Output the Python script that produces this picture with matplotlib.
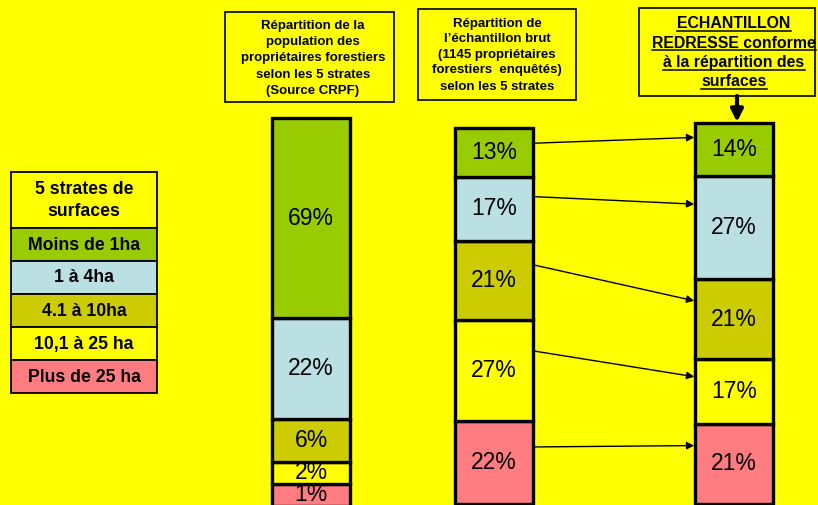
import numpy as np
import matplotlib
matplotlib.use("Agg")
import matplotlib.pyplot as plt
from matplotlib.patches import Rectangle, ConnectionPatch

plt.rcParams['font.family'] = ['Liberation Sans', 'DejaVu Sans']

# --- data ---
strates = ["Moins de 1ha", "1 à 4ha", "4.1 à 10ha", "10,1 à 25 ha", "Plus de 25 ha"]
couleurs = ["#99CC00", "#BBE0E3", "#CCCC00", "#FFFF00", "#FF7C80"]
pop_crpf = [69, 22, 6, 2, 1]          # population des propriétaires (source CRPF)
ech_brut = [13, 17, 21, 27, 22]        # échantillon brut (1145 enquêtés)
ech_redresse = [14, 27, 21, 17, 21]    # échantillon redressé

titre_crpf = ["Répartition de la", "population des", "propriétaires forestiers",
              "selon les 5 strates", "(Source CRPF)"]
titre_brut = ["Répartition de", "l’échantillon brut", "(1145 propriétaires",
              "forestiers  enquêtés)", "selon les 5 strates"]
titre_redresse = ["ECHANTILLON", "REDRESSE conforme", "à la répartition des", "surfaces"]
titre_legende = ["5 strates de", "surfaces"]

BG = "#FFFF00"
W, H = 818, 505

fig = plt.figure(figsize=(W / 100, H / 100), dpi=100, facecolor=BG)
canvas = fig.add_axes([0, 0, 1, 1])
canvas.set_xlim(0, W)
canvas.set_ylim(H, 0)
canvas.axis('off')


def px_axes(x0, y0, x1, y1):
    # axes placed in pixel coordinates (y from the top)
    return fig.add_axes([x0 / W, 1 - y1 / H, (x1 - x0) / W, (y1 - y0) / H])


def stacked_column(ax, values, gamma):
    fwd = lambda y: np.power(np.clip(y, 0, None), gamma)
    inv = lambda t: np.power(np.clip(t, 0, None), 1.0 / gamma)
    ax.set_yscale('function', functions=(fwd, inv))
    ax.set_xlim(0, 1)
    ax.set_ylim(0, 100)
    ax.axis('off')

    # stack from the bottom: last category at the bottom
    vals = np.array(values[::-1], dtype=float)
    cols = couleurs[::-1]
    bottoms = np.concatenate([[0], np.cumsum(vals)[:-1]])
    ax.bar(0.5, vals, bottom=bottoms, width=1, color=cols,
           edgecolor='black', linewidth=2.4, clip_on=False)

    for b, v in zip(bottoms, vals):
        y = inv((fwd(b) + fwd(b + v)) / 2)
        ax.text(0.5, y, f"{v:.0f}%", ha='center', va='center', fontsize=16.5)

    def anchor(i, frac):
        j = len(values) - 1 - i
        top = fwd(bottoms[j] + vals[j])
        bot = fwd(bottoms[j])
        return inv(top - frac * (top - bot))
    return anchor


def header_box(x0, y0, x1, y1, lines, ys, xc, size):
    canvas.add_patch(Rectangle((x0, y0), x1 - x0, y1 - y0, facecolor=BG,
                               edgecolor='black', lw=1.2))
    for line, y in zip(lines, ys):
        canvas.text(xc, y, line, ha='center', va='center',
                    fontsize=size, fontweight='bold')


# --- header boxes ---
header_box(225, 12, 394, 102, titre_crpf, [25.5, 42, 58, 74.5, 91], 313, 9.5)
header_box(418, 9, 576, 100, titre_brut, [24.5, 39.5, 55, 70.5, 86.5], 497, 9.5)

canvas.add_patch(Rectangle((639, 8), 176, 88, facecolor=BG, edgecolor='black', lw=1.2))
under = []
for line, yb in zip(titre_redresse, [28.5, 48, 67.5, 86.5]):
    under.append(canvas.text(734, yb, line, ha='center', va='baseline',
                             fontsize=11.4, fontweight='bold'))

# --- legend ---
lx0, lx1 = 11, 157
canvas.add_patch(Rectangle((lx0, 172), lx1 - lx0, 56, facecolor=BG, edgecolor='black', lw=1.3))
for line, y in zip(titre_legende, [189, 212]):
    canvas.text((lx0 + lx1) / 2, y, line, ha='center', va='center',
                fontsize=12.7, fontweight='bold')
for i, (nom, c) in enumerate(zip(strates, couleurs)):
    y0 = 228 + 33 * i
    canvas.add_patch(Rectangle((lx0, y0), lx1 - lx0, 33, facecolor=c, edgecolor='black', lw=1.3))
    canvas.text((lx0 + lx1) / 2, y0 + 17, nom, ha='center', va='center',
                fontsize=12.7, fontweight='bold')

# --- columns ---
ax1 = px_axes(272, 118, 350, 506)
ax2 = px_axes(455, 128, 533, 504)
ax3 = px_axes(695, 123, 773, 504)
stacked_column(ax1, pop_crpf, 0.62)
a2 = stacked_column(ax2, ech_brut, 1.0)
a3 = stacked_column(ax3, ech_redresse, 1.0)

# arrows from raw sample to adjusted sample
for i in range(len(strates)):
    con = ConnectionPatch(xyA=(1.03, a2(i, 0.31)), coordsA='data', axesA=ax2,
                          xyB=(-0.01, a3(i, 0.27)), coordsB='data', axesB=ax3,
                          arrowstyle='-|>', mutation_scale=11, lw=1.0,
                          color='black', shrinkA=0, shrinkB=0)
    con.set_annotation_clip(False)
    con.set_zorder(5)
    fig.add_artist(con)

# thick arrow from the title box to the adjusted column
canvas.annotate('', xy=(737, 122), xytext=(737, 96),
                arrowprops=dict(arrowstyle='-|>', lw=3, color='black',
                                mutation_scale=18, shrinkA=0, shrinkB=0))

# underline the adjusted-sample title
fig.canvas.draw()
rend = fig.canvas.get_renderer()
for t in under:
    bb = t.get_window_extent(rend)
    yb = t.get_position()[1] + 2
    canvas.plot([bb.x0, bb.x1], [yb, yb], color='black', lw=1.1)

fig.savefig('out.png', dpi=100, facecolor=BG)
